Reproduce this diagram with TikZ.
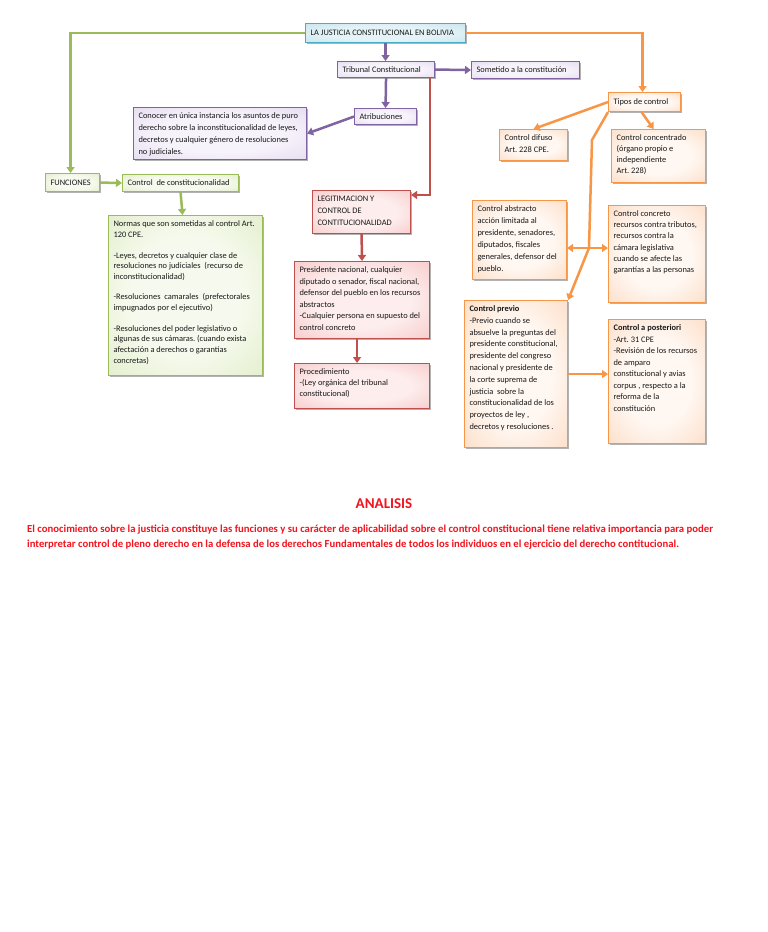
\documentclass[tikz,border=0pt]{standalone}
\usepackage{fontspec}
\setmainfont{Carlito}
\usetikzlibrary{arrows.meta,shadows,calc}
\frenchspacing
\newcommand\tb[1]{\noindent\begin{tabular}[t]{@{}l@{}}#1\end{tabular}}

\definecolor{purB}{HTML}{8064A2}
\definecolor{purIn}{HTML}{F7F3FB}
\definecolor{purOut}{HTML}{D9CDE9}
\definecolor{redB}{HTML}{C0504D}
\definecolor{redIn}{HTML}{FDEDED}
\definecolor{redOut}{HTML}{F3B4B3}
\definecolor{grnB}{HTML}{9BBB59}
\definecolor{grnIn}{HTML}{F6FAEE}
\definecolor{grnOut}{HTML}{D6E6B4}
\definecolor{orgB}{HTML}{F79646}
\definecolor{orgIn}{HTML}{FFF7F1}
\definecolor{orgOut}{HTML}{FBCCAA}
\definecolor{bluB}{HTML}{4BACC6}
\definecolor{bluIn}{HTML}{E4F3F7}
\definecolor{bluOut}{HTML}{B2DCE7}
\definecolor{anaRed}{HTML}{F2141E}

\pgfdeclareradialshading{glowpur}{\pgfpoint{0bp}{0bp}}{color(0bp)=(purIn); color(18bp)=(purIn); color(50bp)=(purOut)}
\pgfdeclareradialshading{glowred}{\pgfpoint{0bp}{0bp}}{color(0bp)=(redIn); color(18bp)=(redIn); color(50bp)=(redOut)}
\pgfdeclareradialshading{glowgrn}{\pgfpoint{0bp}{0bp}}{color(0bp)=(grnIn); color(18bp)=(grnIn); color(50bp)=(grnOut)}
\pgfdeclareradialshading{gloworg}{\pgfpoint{0bp}{0bp}}{color(0bp)=(orgIn); color(18bp)=(orgIn); color(50bp)=(orgOut)}
\pgfdeclareradialshading{glowblu}{\pgfpoint{0bp}{0bp}}{color(0bp)=(bluIn); color(18bp)=(bluIn); color(50bp)=(bluOut)}

\tikzset{
  box/.style={draw, line width=1.1pt, anchor=north west, align=flush left,
    inner xsep=5pt, inner ysep=4pt, text=black!90,
    font=\fontsize{8.4}{11.5}\selectfont,
    drop shadow={shadow xshift=1.6pt, shadow yshift=-1.6pt, opacity=0.3, fill=black}},
  ml/.style={text height=7pt},
  purbox/.style={box, draw=purB, shading=glowpur},
  redbox/.style={box, draw=redB, shading=glowred},
  grnbox/.style={box, draw=grnB, shading=glowgrn},
  orgbox/.style={box, draw=orgB, shading=gloworg},
  blubox/.style={box, draw=bluB, shading=glowblu},
  tip/.style={-{Triangle[length=6pt,width=8pt]}},
  conn/.style={line width=2.5pt, tip},
  pcon/.style={conn, draw=purB},
  rcon/.style={conn, draw=redB},
  gcon/.style={conn, draw=grnB},
  ocon/.style={conn, draw=orgB},
  ana/.style={text=anaRed, inner sep=0pt, font=\bfseries\fontsize{10.7}{12}\selectfont}
}

\begin{document}
\begin{tikzpicture}[x=1pt,y=-1pt]
\fill[white] (0,0) rectangle (768,932);
\useasboundingbox (0,0) rectangle (768,932);

% boxes
\node[blubox, text width=150pt, minimum height=19pt] (title) at (305,23) {LA JUSTICIA CONSTITUCIONAL EN BOLIVIA};
\node[purbox, text width=87pt, minimum height=16pt] (trib) at (337,61) {Tribunal Constitucional};
\node[purbox, text width=98pt, minimum height=17pt] (somet) at (471,61) {Sometido a la constitución};
\node[purbox, text width=52pt, minimum height=16pt] (atrib) at (354,108) {Atribuciones};
\node[purbox, ml, text width=163pt, text depth=37pt, font=\fontsize{8.4}{12}\selectfont] (conocer) at (133,107)
  {\tb{Conocer en única instancia los asuntos de puro\\
   derecho sobre la inconstitucionalidad de leyes,\\
   decretos y cualquier género de resoluciones\\
   no judiciales.}};

\node[grnbox, text width=44pt, minimum height=18pt] (func) at (45,173) {FUNCIONES};
\node[grnbox, text width=106pt, minimum height=17pt] (ctrl) at (122,174) {Control\ \ de constitucionalidad};
\node[grnbox, ml, text width=144pt, text depth=145pt, font=\fontsize{8.4}{10.8}\selectfont] (normas) at (108,215)
  {\tb{Normas que son sometidas al control Art.\\
   120 CPE.\\[10pt]
   -Leyes, decretos y cualquier clase de\\
   resoluciones no judiciales\ \ (recurso de\\
   inconstitucionalidad)\\[9pt]
   -Resoluciones\ \ camarales\ \ (prefectorales\\
   impugnados por el ejecutivo)\\[10pt]
   -Resoluciones del poder legislativo o\\
   algunas de sus cámaras. (cuando exista\\
   afectación a derechos o garantías\\
   concretas)}};

\node[redbox, ml, text width=88pt, text depth=28pt, font=\fontsize{8.4}{12}\selectfont] (legit) at (312,190)
  {\tb{LEGITIMACION Y\\ CONTROL DE\\ CONTITUCIONALIDAD}};
\node[redbox, ml, text width=125pt, text depth=62pt] (pres) at (294,261)
  {\tb{Presidente nacional, cualquier\\
   diputado o senador, fiscal nacional,\\
   defensor del pueblo en los recursos\\
   abstractos\\
   -Cualquier persona en supuesto del\\
   control concreto}};
\node[redbox, ml, text width=125pt, text depth=30pt, font=\fontsize{8.4}{11}\selectfont] (proc) at (294,363)
  {\tb{Procedimiento\\ -(Ley orgánica del tribunal\\ constitucional)}};

\node[orgbox, text width=62pt, minimum height=19pt] (tipos) at (608,92) {Tipos de control};
\node[orgbox, ml, text width=58pt, text depth=16pt, font=\fontsize{8.4}{12}\selectfont] (difuso) at (499,129)
  {\tb{Control difuso\\ Art. 228 CPE.}};
\node[orgbox, ml, text width=84pt, text depth=38pt, font=\fontsize{8.4}{11}\selectfont] (concen) at (611,129)
  {\tb{Control concentrado\\ (órgano propio e\\ independiente\\ Art. 228)}};
\node[orgbox, ml, text width=84pt, text depth=64pt, font=\fontsize{8.4}{12}\selectfont] (abstr) at (472,200)
  {\tb{Control abstracto\\ acción limitada al\\ presidente, senadores,\\ diputados, fiscales\\ generales, defensor del\\ pueblo.}};
\node[orgbox, ml, text width=87pt, text depth=82pt, font=\fontsize{8.4}{11.2}\selectfont] (concre) at (608,205)
  {\tb{Control concreto\\ recursos contra tributos,\\ recursos contra la\\ cámara legislativa\\ cuando se afecte las\\ garantías a las personas}};
\node[orgbox, ml, text width=93pt, text depth=132pt, font=\fontsize{8.4}{11.8}\selectfont] (previo) at (464,300)
  {\tb{\textbf{Control previo}\\
   -Previo cuando se\\
   absuelve la preguntas del\\
   presidente constitucional,\\
   presidente del congreso\\
   nacional y presidente de\\
   la corte suprema de\\
   justicia\ \ sobre la\\
   constitucionalidad de los\\
   proyectos de ley ,\\
   decretos y resoluciones .}};
\node[orgbox, ml, text width=87pt, text depth=109pt] (poster) at (608,319)
  {\tb{\textbf{Control a posteriori}\\
   -Art. 31 CPE\\
   -Revisión de los recursos\\
   de amparo\\
   constitucional y avias\\
   corpus , respecto a la\\
   reforma de la\\
   constitución}};

% bend points
\coordinate (b1) at (592,140);
\coordinate (b2) at (589,248);

% connectors
\draw[gcon] (title.west) -| ([xshift=-2pt]func.north);
\draw[ocon] (title.east) -| ([xshift=-2pt]tipos.north);
\draw[pcon] (title.south) -- (title.south |- trib.north);
\draw[pcon] (trib.east) -- (somet.west);
\draw[pcon] (trib.south) -- (atrib.north);
\draw[pcon] (atrib.west) -- (conocer.east);
\draw[rcon] ([xshift=-5pt]trib.south east) |- ([yshift=-5pt]legit.north east);
\draw[rcon] (legit.south) -- (pres.north);
\draw[rcon] ([xshift=-5pt]pres.south) -- ([xshift=-5pt]proc.north);
\draw[gcon] (func.east) -- (ctrl.west);
\draw[gcon] (ctrl.south) -- ([xshift=-3pt]normas.north);
\draw[ocon] (tipos.west) -- (difuso.north);
\draw[ocon] ([xshift=-3pt]tipos.south) -- ([xshift=-5pt]concen.north);
\draw[ocon, line join=round] (tipos.south west) -- (b1) -- (b2) -- (previo.north east);
\draw[ocon, {Triangle[length=6pt,width=8pt]}-{Triangle[length=6pt,width=8pt]}] (abstr.east |- b2) -- (concre.west |- b2);
\draw[ocon] (previo.east) -- (previo.east -| poster.west);

% analysis text
\node[ana, font=\bfseries\fontsize{15}{18}\selectfont, anchor=base] (analisis) at (384,508) {ANALISIS};
\node[ana, anchor=base west] (p1) at (27,532) {El conocimiento sobre la justicia constituye las funciones y su carácter de aplicabilidad sobre el control constitucional tiene relativa importancia para poder};
\node[ana, anchor=base west] (p2) at (27,547) {interpretar control de pleno derecho en la defensa de los derechos Fundamentales de todos los individuos en el ejercicio del derecho contitucional.};
\end{tikzpicture}
\end{document}
